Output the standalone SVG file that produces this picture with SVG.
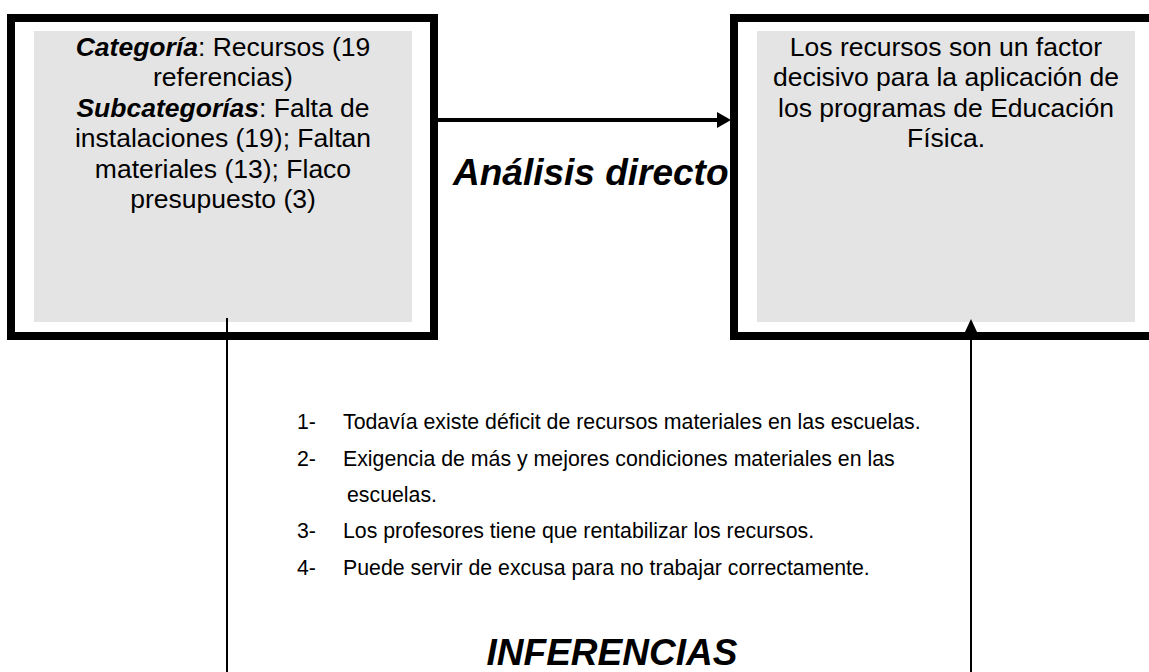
<svg xmlns="http://www.w3.org/2000/svg" width="1149" height="672" viewBox="0 0 1149 672">
<style>
.frame{fill:#ffffff;stroke:#000000;stroke-width:8}
.fill{fill:#e4e4e4}
.box{font-family:"Liberation Sans",Arial,sans-serif;font-size:26.5px;fill:#000;text-anchor:middle}
.b{font-weight:bold;font-style:italic}
.lbl{font-family:"Liberation Sans",Arial,sans-serif;font-size:37px;font-weight:bold;font-style:italic;fill:#000}
.list{font-family:"Liberation Sans",Arial,sans-serif;font-size:21.3px;fill:#000}
.conn{stroke:#000;fill:none}
</style>
<defs>
<marker id="ah" markerUnits="userSpaceOnUse" markerWidth="14" markerHeight="16" refX="8" refY="8" orient="auto">
<path d="M0,0 L14,8 L0,16 Z" fill="#000"/>
</marker>
<marker id="av" markerUnits="userSpaceOnUse" markerWidth="13" markerHeight="12" refX="6" refY="6" orient="auto">
<path d="M0,0 L13,6 L0,12 Z" fill="#000"/>
</marker>
</defs>
<rect width="1149" height="672" fill="#ffffff"/>
<g id="node-categoria">
<rect class="frame" x="11" y="18" width="423" height="318"/>
<rect class="fill" x="34" y="31" width="378" height="291"/>
<text class="box" x="223" y="55.5"><tspan class="b">Categoría</tspan>: Recursos (19</text>
<text class="box" x="223" y="86">referencias)</text>
<text class="box" x="223" y="116.5"><tspan class="b">Subcategorías</tspan>: Falta de</text>
<text class="box" x="223" y="147">instalaciones (19); Faltan</text>
<text class="box" x="223" y="177.5">materiales (13); Flaco</text>
<text class="box" x="223" y="208">presupuesto (3)</text>
</g>
<g id="node-conclusion">
<rect class="frame" x="734" y="18" width="423" height="318"/>
<rect class="fill" x="757" y="31" width="378" height="291"/>
<text class="box" x="946" y="55.5">Los recursos son un factor</text>
<text class="box" x="946" y="86">decisivo para la aplicación de</text>
<text class="box" x="946" y="116.5">los programas de Educación</text>
<text class="box" x="946" y="147">Física.</text>
</g>
<g id="connectors">
<line class="conn" x1="438" y1="120" x2="725" y2="120" stroke-width="4" marker-end="url(#ah)"/>
<line class="conn" x1="227" y1="318" x2="227" y2="672" stroke-width="2"/>
<line class="conn" x1="971" y1="672" x2="971" y2="326" stroke-width="2" marker-end="url(#av)"/>
</g>
<g id="label-analisis">
<text class="lbl" x="453" y="185">Análisis directo</text>
</g>
<g id="inferencias">
<text class="list" x="297" y="429">1-</text>
<text class="list" x="343" y="429">Todavía existe déficit de recursos materiales en las escuelas.</text>
<text class="list" x="297" y="466">2-</text>
<text class="list" x="343" y="466">Exigencia de más y mejores condiciones materiales en las</text>
<text class="list" x="347" y="502">escuelas.</text>
<text class="list" x="297" y="538">3-</text>
<text class="list" x="343" y="538">Los profesores tiene que rentabilizar los recursos.</text>
<text class="list" x="297" y="575">4-</text>
<text class="list" x="343" y="575">Puede servir de excusa para no trabajar correctamente.</text>
<text class="lbl" x="612" y="665" text-anchor="middle">INFERENCIAS</text>
</g>
</svg>
